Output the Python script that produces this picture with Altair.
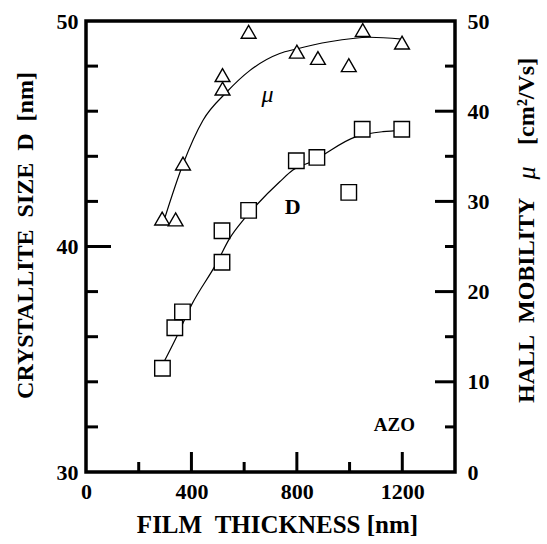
import altair as alt
import pandas as pd

# ---- data ----
d_x = [290, 337, 366, 516, 516, 617, 798, 876, 997, 1048, 1198]
d_y = [34.6, 36.4, 37.1, 39.3, 40.7, 41.6, 43.8, 43.95, 42.4, 45.2, 45.2]

mu_x = [289, 340, 368, 518, 518, 617, 800, 880, 997, 1050, 1199]
mu_y = [28.1, 28.0, 34.2, 44.0, 42.5, 48.8, 46.6, 45.9, 45.1, 49.0, 47.6]

d_fit_x = [290, 344, 400, 495, 545, 602, 647, 735, 785, 855, 1025, 1126, 1200]
d_fit_y = [34.75, 36.0, 37.4, 39.25, 40.36, 41.25, 41.84, 42.87, 43.39, 43.76, 44.87, 45.09, 45.15]

mu_fit_x = [295, 369, 444, 533, 621, 735, 798, 924, 1076, 1200]
mu_fit_y = [27.8, 34.2, 39.0, 42.1, 44.5, 46.4, 46.9, 47.7, 48.2, 48.0]

x_labels = [0, 400, 800, 1200]
x_minor = [200, 600, 1000]
x_major_inner = [400, 800, 1200]
left_labels = [30, 40, 50]
left_major_inner = [40]
left_minor = [32, 34, 36, 38, 42, 44, 46, 48]
right_labels = [0, 10, 20, 30, 40, 50]
right_major_inner = [10, 20, 30, 40]
right_minor = [5, 15, 25, 35, 45]

NB = "\u00a0"
x_title = "FILM" + NB + NB + "THICKNESS" + NB + "[nm]"
left_title = "CRYSTALLITE" + NB + NB + "SIZE" + NB + NB + "D" + NB + NB + "[nm]"
right_title_parts = ["HALL" + NB + NB + "MOBILITY", "μ", "[cm²/Vs]"]

W, H = 369, 451
FONT = "Liberation Serif"

xs = alt.Scale(domain=[0, 1400], nice=False, zero=False)
ls = alt.Scale(domain=[30, 50], nice=False, zero=False)
rs = alt.Scale(domain=[0, 50], nice=False, zero=False)

x_axis = alt.Axis(values=x_labels, title=x_title, orient="bottom", format="d",
                  domain=False, ticks=False, grid=False, labelPadding=9,
                  titleX=191, titleY=52, titleBaseline="middle", titleFontSize=25,
                  labelFlush=False)
l_axis = alt.Axis(values=left_labels, title=left_title, format="d",
                  orient="left", domain=False, ticks=False, grid=False,
                  labelPadding=8, titleX=-61, titleY=214, titleBaseline="middle",
                  titleFontSize=24, labelFlush=False)
r_axis = alt.Axis(values=right_labels, title="", format="d",
                  orient="right", domain=False, ticks=False, grid=False,
                  labelPadding=12, labelFlush=False)

X = lambda f: alt.X(f, scale=xs, axis=x_axis)
YL = lambda f: alt.Y(f, scale=ls, axis=l_axis)
YR = lambda f: alt.Y(f, scale=rs, axis=r_axis)

df_d = pd.DataFrame({"x": d_x, "y": d_y})
df_mu = pd.DataFrame({"x": mu_x, "y": mu_y})
df_dfit = pd.DataFrame({"x": d_fit_x, "y": d_fit_y})
df_mufit = pd.DataFrame({"x": mu_fit_x, "y": mu_fit_y})

# ---------- left group (D) ----------
d_line = alt.Chart(df_dfit).mark_line(color="black", strokeWidth=1.2, interpolate="monotone").encode(
    x=X("x:Q"), y=YL("y:Q"))
d_pts = alt.Chart(df_d).mark_point(shape="square", filled=True, fill="white", stroke="black",
                                    strokeWidth=1.4, size=240, opacity=1).encode(
    x=X("x:Q"), y=YL("y:Q"))
left_major = alt.Chart(pd.DataFrame({"v": left_major_inner})).mark_rule(color="black", strokeWidth=3).encode(
    y=YL("v:Q"), x=alt.value(0), x2=alt.value(25))
left_min = alt.Chart(pd.DataFrame({"v": left_minor})).mark_rule(color="black", strokeWidth=3).encode(
    y=YL("v:Q"), x=alt.value(0), x2=alt.value(12))
d_text = alt.Chart(pd.DataFrame({"x": [784], "y": [41.75], "t": ["D"]})).mark_text(
    font=FONT, fontSize=22, fontWeight="bold", color="black").encode(
    x=X("x:Q"), y=YL("y:Q"), text="t:N")
bottom_major = alt.Chart(pd.DataFrame({"v": x_major_inner})).mark_rule(color="black", strokeWidth=3).encode(
    x=X("v:Q"), y=alt.value(H), y2=alt.value(H - 20))
bottom_minor = alt.Chart(pd.DataFrame({"v": x_minor})).mark_rule(color="black", strokeWidth=3).encode(
    x=X("v:Q"), y=alt.value(H), y2=alt.value(H - 10))

left = alt.layer(d_line, d_pts, left_major, left_min, d_text, bottom_major, bottom_minor)

# ---------- right group (mu) ----------
mu_line = alt.Chart(df_mufit).mark_line(color="black", strokeWidth=1.2, interpolate="monotone").encode(
    x=X("x:Q"), y=YR("y:Q"))
mu_pts = alt.Chart(df_mu).mark_point(shape="triangle-up", filled=True, fill="white", stroke="black",
                                      strokeWidth=1.4, size=220, opacity=1).encode(
    x=X("x:Q"), y=YR("y:Q"))
right_major = alt.Chart(pd.DataFrame({"v": right_major_inner})).mark_rule(color="black", strokeWidth=3).encode(
    y=YR("v:Q"), x=alt.value(W), x2=alt.value(W - 20))
right_min = alt.Chart(pd.DataFrame({"v": right_minor})).mark_rule(color="black", strokeWidth=3).encode(
    y=YR("v:Q"), x=alt.value(W), x2=alt.value(W - 10))
mu_text = alt.Chart(pd.DataFrame({"x": [689], "y": [41.8], "t": ["μ"]})).mark_text(
    font=FONT, fontSize=24, fontStyle="italic", color="black").encode(
    x=X("x:Q"), y=YR("y:Q"), text="t:N")
azo_text = alt.Chart(pd.DataFrame({"x": [1170], "y": [5.2], "t": ["AZO"]})).mark_text(
    font=FONT, fontSize=19, fontWeight="bold", color="black").encode(
    x=X("x:Q"), y=YR("y:Q"), text="t:N")

# right axis title, split so that mu can be italic
rt1 = alt.Chart(pd.DataFrame({"t": [right_title_parts[0]]})).mark_text(
    font=FONT, fontSize=24, fontWeight="bold", color="black", angle=270, align="left",
    baseline="middle").encode(x=alt.value(W + 72), y=alt.value(382), text="t:N")
rt2 = alt.Chart(pd.DataFrame({"t": [right_title_parts[1]]})).mark_text(
    font=FONT, fontSize=26, fontStyle="italic", color="black", angle=270, align="center",
    baseline="middle").encode(x=alt.value(W + 72), y=alt.value(152), text="t:N")
rt3 = alt.Chart(pd.DataFrame({"t": [right_title_parts[2]]})).mark_text(
    font=FONT, fontSize=24, fontWeight="bold", color="black", angle=270, align="left",
    baseline="middle").encode(x=alt.value(W + 72), y=alt.value(124), text="t:N")

right = alt.layer(mu_line, mu_pts, right_major, right_min, mu_text, azo_text, rt1, rt2, rt3)

chart = alt.layer(left, right).resolve_scale(y="independent").properties(
    width=W, height=H,
    autosize=alt.AutoSizeParams(type="none"),
    padding={"left": 86, "top": 21, "right": 92, "bottom": 72},
    background="white",
).configure_view(stroke="black", strokeWidth=3.5).configure_axis(
    labelFont=FONT, titleFont=FONT, labelFontSize=22, titleFontSize=24,
    labelFontWeight="bold", titleFontWeight="bold", labelColor="black", titleColor="black",
)

chart.save("out.html", embed_options={"renderer": "svg", "actions": False})
